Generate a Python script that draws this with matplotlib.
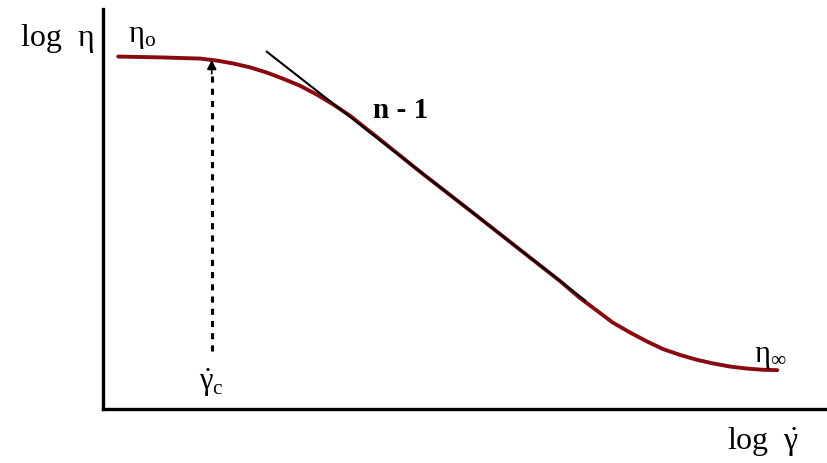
import matplotlib
matplotlib.use('Agg')
import matplotlib.pyplot as plt

plt.rcParams['font.family'] = ['Liberation Serif', 'DejaVu Serif']
plt.rcParams['mathtext.fontset'] = 'custom'
plt.rcParams['mathtext.rm'] = 'Liberation Serif'
plt.rcParams['mathtext.it'] = 'Liberation Serif:italic'
plt.rcParams['mathtext.bf'] = 'Liberation Serif:bold'
plt.rcParams['mathtext.default'] = 'rm'

# flow curve (log shear rate vs log viscosity, arbitrary units)
log_rate = [0.21, 0.79, 1.34, 1.57, 1.79, 2.03, 2.26, 2.48, 2.72, 2.95, 3.17, 3.41,
            3.61, 3.78, 4.37, 5.06, 5.75, 6.30, 6.58, 6.81, 7.03, 7.27, 7.50, 7.72,
            7.96, 8.19, 8.41, 8.65, 8.88, 9.10, 9.30]
log_visc = [8.80, 8.78, 8.75, 8.70, 8.63, 8.53, 8.40, 8.25, 8.07, 7.85, 7.61, 7.32,
            7.03, 6.79, 5.93, 4.96, 3.98, 3.20, 2.77, 2.46, 2.16, 1.91, 1.69, 1.50,
            1.35, 1.23, 1.14, 1.06, 1.01, 0.98, 0.97]

# power law tangent (slope n-1)
tangent_x = [2.26, 6.65]
tangent_y = [8.92, 2.71]

# critical shear rate marker
crit_rate = 1.50
crit_bottom = 1.45
crit_top = 8.72

fig = plt.figure(figsize=(8.28, 4.63), dpi=100)
ax = fig.add_axes([0.1244, 0.1166, 0.8756, 0.865])

ax.plot(log_rate, log_visc, color='#8b0a12', lw=2.8, solid_capstyle='round',
        solid_joinstyle='round', zorder=2)
ax.plot(tangent_x, tangent_y, color='black', lw=1.5, zorder=3)

ax.plot([crit_rate, crit_rate], [crit_bottom, crit_top - 0.3], color='black',
        lw=2.2, dashes=(2, 2), zorder=1)
ax.annotate('', xy=(crit_rate, crit_top), xytext=(crit_rate, crit_top - 0.35),
            arrowprops=dict(arrowstyle='-|>', color='black', lw=1.2,
                            mutation_scale=14, shrinkA=0, shrinkB=0))

ax.set_xlim(0, 10)
ax.set_ylim(0, 10)
for side in ['top', 'right']:
    ax.spines[side].set_visible(False)
for side in ['left', 'bottom']:
    ax.spines[side].set_linewidth(2.4)
ax.set_xticks([])
ax.set_yticks([])

fs = 22
ax.text(-0.11, 9.25, 'log  η', fontsize=23, ha='right', va='center', clip_on=False)
ax.text(0.35, 9.3, r'$\eta_{\rm o}$', fontsize=fs, ha='left', va='center')
ax.text(3.72, 7.45, 'n - 1', fontsize=21, fontweight='bold', ha='left', va='center')
ax.text(8.98, 1.3, r'$\eta_\infty$', fontsize=fs, ha='left', va='center')
ax.text(crit_rate, 0.65, r'$\dot{\gamma}_c$', fontsize=fs, ha='center', va='center')
ax.text(9.6, -0.82, r'log  $\dot{\gamma}$', fontsize=23, ha='right', va='center',
        clip_on=False)

fig.savefig('out.png', dpi=100)
